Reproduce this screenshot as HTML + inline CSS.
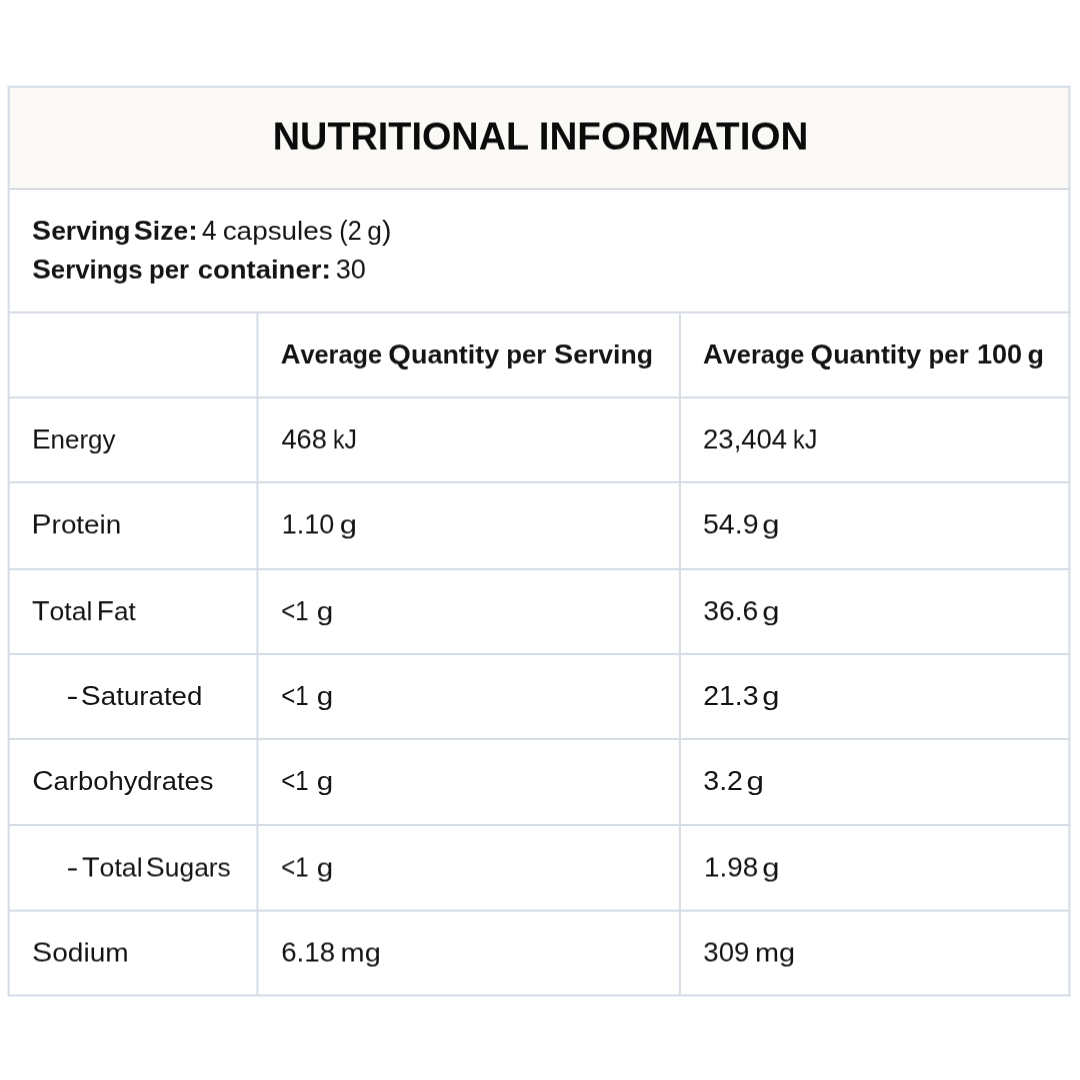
<!DOCTYPE html>
<html lang="en">
<head>
<meta charset="utf-8">
<title>Nutritional Information</title>
<style>
html,body{margin:0;padding:0;background:#fff;}
body{width:1080px;height:1080px;position:relative;overflow:hidden;font-family:"Liberation Sans",sans-serif;color:#141414;}
.grid{position:absolute;left:0;top:0;width:1080px;height:1080px;}
.title,.serv,.th,.td{position:absolute;left:0;width:1080px;height:56px;margin:0;font-size:27px;font-weight:400;line-height:1;}
.title{font-size:39px;color:#0b0b0b;height:72px;}
.title span,.th span,b{font-weight:700;}
span,b{position:absolute;white-space:pre;line-height:1;transform-origin:0 0;}
small{font-size:25px;}
.v25{filter:url(#v25);}
.v50{filter:url(#v50);}
.v75{filter:url(#v75);}
</style>
</head>
<body>
<svg class="grid" width="1080" height="1080" viewBox="0 0 1080 1080">
<defs>
<filter id="v25" x="0" y="0" width="100%" height="100%" color-interpolation-filters="sRGB"><feConvolveMatrix order="1 2" kernelMatrix="0.75 0.25" targetX="0" targetY="1" edgeMode="none" preserveAlpha="false"/></filter>
<filter id="v50" x="0" y="0" width="100%" height="100%" color-interpolation-filters="sRGB"><feConvolveMatrix order="1 2" kernelMatrix="0.5 0.5" targetX="0" targetY="1" edgeMode="none" preserveAlpha="false"/></filter>
<filter id="v75" x="0" y="0" width="100%" height="100%" color-interpolation-filters="sRGB"><feConvolveMatrix order="1 2" kernelMatrix="0.25 0.75" targetX="0" targetY="1" edgeMode="none" preserveAlpha="false"/></filter>
</defs>
<rect x="8.65" y="86.70" width="1060.75" height="102.30" fill="#faf9f5"/>
<rect x="7.65" y="85.70" width="1062.75" height="2" fill="#d5dce5"/>
<rect x="7.65" y="188.00" width="1062.75" height="2" fill="#d5dce5"/>
<rect x="7.65" y="311.40" width="1062.75" height="2" fill="#d5dce5"/>
<rect x="7.65" y="396.50" width="1062.75" height="2" fill="#d5dce5"/>
<rect x="7.65" y="481.30" width="1062.75" height="2" fill="#d5dce5"/>
<rect x="7.65" y="568.20" width="1062.75" height="2" fill="#d5dce5"/>
<rect x="7.65" y="653.10" width="1062.75" height="2" fill="#d5dce5"/>
<rect x="7.65" y="737.90" width="1062.75" height="2" fill="#d5dce5"/>
<rect x="7.65" y="824.00" width="1062.75" height="2" fill="#d5dce5"/>
<rect x="7.65" y="909.60" width="1062.75" height="2" fill="#d5dce5"/>
<rect x="7.65" y="994.40" width="1062.75" height="2" fill="#d5dce5"/>
<rect x="7.65" y="85.70" width="2" height="910.70" fill="#d5dce5"/>
<rect x="256.45" y="312.40" width="2" height="683.00" fill="#d5dce5"/>
<rect x="678.90" y="312.40" width="2" height="683.00" fill="#d5dce5"/>
<rect x="1068.40" y="85.70" width="2" height="910.70" fill="#d5dce5"/>
</svg>
<main role="table" aria-label="Nutritional information">
<h1 class="title v50" style="top:93px"><span style="left:272px;top:23px;transform:translateX(0.76px) scaleX(0.9697)">NUTRITIONAL</span> <span style="left:538px;top:23px;transform:translateX(0.67px) scaleX(0.9907)">INFORMATION</span></h1>
<p class="serv v75" style="top:199px"><b style="left:32px;top:18px;transform:translateX(0.09px) scaleX(1.0577)">S<small>erving</small></b> <b style="left:133px;top:18px;transform:translateX(0.82px) scaleX(1.0571)">S<small>ize</small>:</b> <span style="left:201px;top:18px;transform:translateX(0.99px) scaleX(0.9652)">4</span> <span style="left:222px;top:18px;transform:translateX(0.68px) scaleX(1.1152)"><small>capsules</small></span> <span style="left:339px;top:18px;transform:translateX(0.26px) scaleX(0.9333)">(2</span> <span style="left:367px;top:18px;transform:translateX(0.27px) scaleX(1.0506)"><small>g</small>)</span></p>
<p class="serv v50" style="top:238px"><b style="left:32px;top:18px;transform:translateX(0.20px) scaleX(1.0333)">S<small>ervings</small></b> <b style="left:148px;top:18px;transform:translateX(0.90px) scaleX(1.0318)"><small>per</small></b> <b style="left:197px;top:18px;transform:translateX(0.68px) scaleX(1.0992)"><small>container</small>:</b> <span style="left:335px;top:18px;transform:translateX(0.68px) scaleX(1.0051)">30</span></p>
<div class="row th v50" role="row" style="top:323px"><div role="columnheader"></div><div role="columnheader"><span style="left:280px;top:18px;transform:translateX(0.70px) scaleX(1.0125)">A<small>verage</small></span> <span style="left:388px;top:18px;transform:translateX(0.37px) scaleX(1.0769)">Q<small>uantity</small></span> <span style="left:506px;top:18px;transform:translateX(0.18px) scaleX(1.0311)"><small>per</small></span> <span style="left:553px;top:18px;transform:translateX(0.98px) scaleX(1.0636)">S<small>erving</small></span></div><div role="columnheader"><span style="left:703px;top:18px;transform:translateX(0.03px) scaleX(1.0128)">A<small>verage</small></span> <span style="left:810px;top:18px;transform:translateX(0.59px) scaleX(1.0741)">Q<small>uantity</small></span> <span style="left:928px;top:18px;transform:translateX(0.58px) scaleX(1.0303)"><small>per</small></span> <span style="left:976px;top:18px;transform:translateX(0.93px) scaleX(1.0047)">100</span> <span style="left:1027px;top:18px;transform:translateX(0.40px) scaleX(1.0770)"><small>g</small></span></div></div>
<div class="row td v50" role="row" style="top:408px"><div role="rowheader"><span style="left:31px;top:18px;transform:translateX(0.88px) scaleX(1.0377)">E<small>nergy</small></span></div><div role="cell"><span style="left:281px;top:18px;transform:translateX(0.39px) scaleX(1.0085)">468</span> <span style="left:333px;top:18px;transform:translateX(0.03px) scaleX(0.9209)"><small>k</small>J</span></div><div role="cell"><span style="left:703px;top:18px;transform:translateX(0.06px) scaleX(1.0181)">23,404</span> <span style="left:793px;top:18px;transform:translateX(0.03px) scaleX(0.9406)"><small>k</small>J</span></div></div>
<div class="row td v50" role="row" style="top:493px"><div role="rowheader"><span style="left:31px;top:18px;transform:translateX(0.54px) scaleX(1.1139)">P<small>rotein</small></span></div><div role="cell"><span style="left:281px;top:18px;transform:translateX(0.69px) scaleX(0.9995)">1.10</span> <span style="left:339px;top:18px;transform:translateX(0.85px) scaleX(1.2402)"><small>g</small></span></div><div role="cell"><span style="left:702px;top:18px;transform:translateX(0.96px) scaleX(1.0581)">54.9</span> <span style="left:762px;top:18px;transform:translateX(0.30px) scaleX(1.2385)"><small>g</small></span></div></div>
<div class="row td v25" role="row" style="top:580px"><div role="rowheader"><span style="left:32px;top:18px;transform:translateX(0.01px) scaleX(1.0636)">T<small>otal</small></span> <span style="left:96px;top:18px;transform:translateX(0.82px) scaleX(1.0425)">F<small>at</small></span></div><div role="cell"><span style="left:281px;top:18px;transform:translateX(0.22px) scaleX(0.8901)">&lt;1</span> <span style="left:316px;top:18px;transform:translateX(0.81px) scaleX(1.1858)"><small>g</small></span></div><div role="cell"><span style="left:703px;top:18px;transform:translateX(0.15px) scaleX(1.0500)">36.6</span> <span style="left:762px;top:18px;transform:translateX(0.29px) scaleX(1.2394)"><small>g</small></span></div></div>
<div class="row td" role="row" style="top:665px"><div role="rowheader"><span style="left:66px;top:18px;transform:translateX(0.56px) scaleX(1.3213)">-</span> <span style="left:80px;top:18px;transform:translateX(0.84px) scaleX(1.1076)">S<small>aturated</small></span></div><div role="cell"><span style="left:281px;top:18px;transform:translateX(0.22px) scaleX(0.8901)">&lt;1</span> <span style="left:316px;top:18px;transform:translateX(0.68px) scaleX(1.1811)"><small>g</small></span></div><div role="cell"><span style="left:703px;top:18px;transform:translateX(0.15px) scaleX(1.0535)">21.3</span> <span style="left:762px;top:18px;transform:translateX(0.32px) scaleX(1.2363)"><small>g</small></span></div></div>
<div class="row td" role="row" style="top:750px"><div role="rowheader"><span style="left:32px;top:18px;transform:translateX(0.23px) scaleX(1.0956)">C<small>arbohydrates</small></span></div><div role="cell"><span style="left:281px;top:18px;transform:translateX(0.22px) scaleX(0.8901)">&lt;1</span> <span style="left:316px;top:18px;transform:translateX(0.68px) scaleX(1.1811)"><small>g</small></span></div><div role="cell"><span style="left:703px;top:18px;transform:translateX(0.25px) scaleX(1.0574)">3.2</span> <span style="left:746px;top:18px;transform:translateX(0.59px) scaleX(1.2549)"><small>g</small></span></div></div>
<div class="row td v50" role="row" style="top:836px"><div role="rowheader"><span style="left:66px;top:18px;transform:translateX(0.56px) scaleX(1.3213)">-</span> <span style="left:81px;top:18px;transform:translateX(0.91px) scaleX(1.0678)">T<small>otal</small></span> <span style="left:145px;top:18px;transform:translateX(0.83px) scaleX(1.0540)">S<small>ugars</small></span></div><div role="cell"><span style="left:281px;top:18px;transform:translateX(0.22px) scaleX(0.8904)">&lt;1</span> <span style="left:316px;top:18px;transform:translateX(0.65px) scaleX(1.1828)"><small>g</small></span></div><div role="cell"><span style="left:704px;top:18px;transform:translateX(0.12px) scaleX(1.0306)">1.98</span> <span style="left:762px;top:18px;transform:translateX(0.30px) scaleX(1.2385)"><small>g</small></span></div></div>
<div class="row td v50" role="row" style="top:921px"><div role="rowheader"><span style="left:31px;top:18px;transform:translateX(0.94px) scaleX(1.1231)">S<small>odium</small></span></div><div role="cell"><span style="left:281px;top:18px;transform:translateX(0.15px) scaleX(1.0256)">6.18</span> <span style="left:340px;top:18px;transform:translateX(0.57px) scaleX(1.1561)"><small>mg</small></span></div><div role="cell"><span style="left:703px;top:18px;transform:translateX(0.29px) scaleX(1.0214)">309</span> <span style="left:754px;top:18px;transform:translateX(0.94px) scaleX(1.1544)"><small>mg</small></span></div></div>
</main>
</body>
</html>
